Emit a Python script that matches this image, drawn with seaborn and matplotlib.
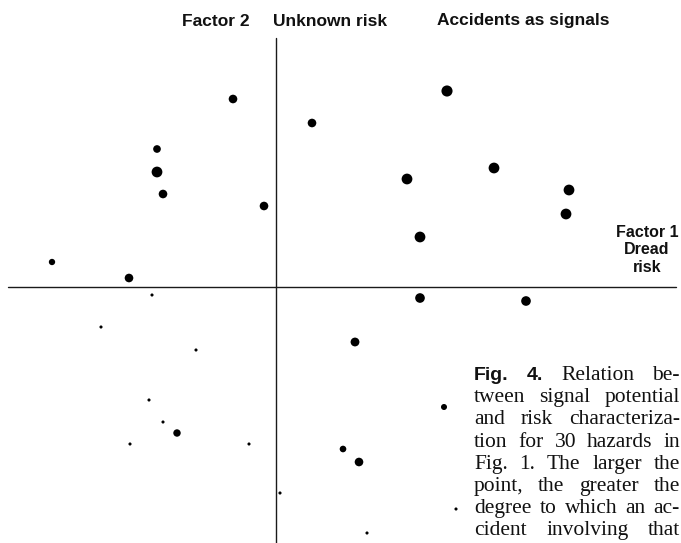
import matplotlib
matplotlib.use("Agg")
import matplotlib.pyplot as plt
import seaborn as sns
import pandas as pd

# ---- data: hazard positions on the two risk factors and their signal potential ----
factor1 = [-0.43, 0.36, 1.71, -1.19, -1.19, -1.13, -0.12, 1.31, 2.18, 2.93,
           2.90, 1.44, -2.24, -1.47, -1.24, 1.44, 2.50, -1.75, -0.80, 0.79,
           -1.27, 1.68, -1.13, -0.99, -1.46, -0.27, 0.67, 0.83, 0.04, 0.91, 1.80]
factor2 = [1.88, 1.64, 1.96, 1.38, 1.15, 0.93, 0.81, 1.08, 1.19, 0.97,
           0.73, 0.50, 0.25, 0.09, -0.08, -0.11, -0.14, -0.40, -0.63, -0.55,
           -1.13, -1.20, -1.35, -1.46, -1.57, -1.57, -1.62, -1.75, -2.06, -2.46, -2.22]
signal = [2.7, 2.7, 4.0, 2.3, 3.8, 2.7, 2.7, 3.8, 3.8, 3.8,
          3.8, 3.8, 1.8, 2.7, 1.0, 3.2, 3.2, 1.0, 1.0, 2.8,
          1.0, 1.7, 1.0, 2.2, 1.0, 1.0, 1.9, 2.7, 1.0, 1.0, 0.9]

top_labels = ["Factor 2", "Unknown risk", "Accidents as signals"]
right_label = "Factor 1\nDread\nrisk"
caption_lines = [
    ["Fig.", "4.", "Relation", "be-"],
    ["tween", "signal", "potential"],
    ["and", "risk", "characteriza-"],
    ["tion", "for", "30", "hazards", "in"],
    ["Fig.", "1.", "The", "larger", "the"],
    ["point,", "the", "greater", "the"],
    ["degree", "to", "which", "an", "ac-"],
    ["cident", "involving", "that"],
]

df = pd.DataFrame({"factor1": factor1, "factor2": factor2, "signal": signal})

sns.set_style("white")
plt.rcParams["font.family"] = ["Liberation Sans", "DejaVu Sans"]

W, H = 681, 543
fig = plt.figure(figsize=(W / 100, H / 100), dpi=100)
ax = fig.add_axes([0, 0, 1, 1])
X0, Y0, S = 276, 287, 100.0
ax.set_xlim(-X0 / S, (W - X0) / S)
ax.set_ylim(-(H - Y0) / S, Y0 / S)
ax.axis("off")

# axes cross
ax.plot([(8 - X0) / S, (676 - X0) / S], [0, 0], color="#1a1a1a", lw=1.0)
ax.plot([0, 0], [(Y0 - 560) / S, (Y0 - 38) / S], color="#1a1a1a", lw=1.0)

sns.scatterplot(data=df, x="factor1", y="factor2", size="signal",
                sizes=(5, 64), size_norm=(1, 4), color="black",
                linewidth=0, legend=False, ax=ax)


def fx(px):
    return px / W


def fy(py):
    return 1 - py / H


# top labels
for txt, x in zip(top_labels, [182, 273, 437]):
    fig.text(fx(x), fy(21), txt, ha="left", va="center", fontsize=12.5,
             fontweight="bold", color="#111111")

fig.text(fx(647), fy(250), right_label, ha="center", va="center",
         fontsize=11.5, fontweight="bold", color="#111111", linespacing=1.2)

# justified caption
renderer = fig.canvas.get_renderer()
serif = dict(family=["Liberation Serif", "DejaVu Serif"], fontsize=15.5,
             color="#111111")
sans_bold = dict(family=["Liberation Sans", "DejaVu Sans"], fontsize=14,
                 fontweight="bold", color="#111111")
CX0, CX1 = 474, 680
for i, words in enumerate(caption_lines):
    yb = 380 + 22.2 * i
    texts, widths = [], []
    for j, w in enumerate(words):
        props = sans_bold if (i == 0 and j < 2) else serif
        t = fig.text(0, fy(yb), w, ha="left", va="baseline", **props)
        widths.append(t.get_window_extent(renderer).width)
        texts.append(t)
    gap = (CX1 - CX0 - sum(widths)) / (len(words) - 1)
    x = CX0
    for t, wd in zip(texts, widths):
        t.set_x(fx(x))
        x += wd + gap

fig.savefig("out.png", dpi=100)
